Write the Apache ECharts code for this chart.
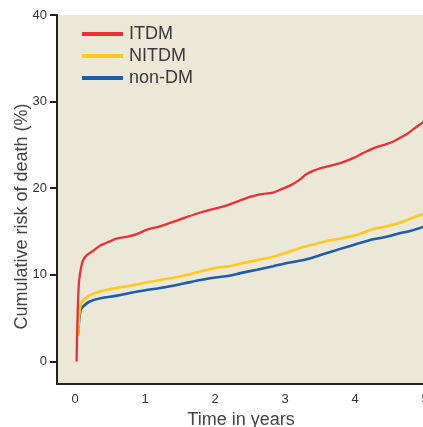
<!DOCTYPE html>
<html><head><meta charset="utf-8">
<script src="https://cdn.jsdelivr.net/npm/echarts@6/dist/echarts.min.js"></script>
<style>html,body{margin:0;padding:0;background:#fff}#c{width:423px;height:427px}</style>
</head><body><div id="c"></div>
<script>
const seriesNames = ['ITDM', 'NITDM', 'non-DM'];
const xTicks = [0, 1, 2, 3, 4, 5];
const yTicks = [0, 10, 20, 30, 40];
const itdm = [[0.02,0],[0.03,4],[0.05,8.7],[0.07,10.2],[0.1,11.4],[0.12,11.8],[0.17,12.3],[0.26,12.8],[0.36,13.4],[0.45,13.7],[0.6,14.2],[0.75,14.4],[0.88,14.7],[1.02,15.2],[1.21,15.6],[1.5,16.4],[1.79,17.2],[2.07,17.8],[2.2,18.1],[2.36,18.6],[2.5,19.0],[2.64,19.3],[2.83,19.5],[2.95,19.9],[3.07,20.3],[3.21,21.0],[3.3,21.6],[3.4,22.0],[3.5,22.3],[3.65,22.6],[3.79,22.9],[3.98,23.5],[4.1,24.0],[4.26,24.6],[4.45,25.1],[4.55,25.4],[4.64,25.8],[4.75,26.3],[4.83,26.8],[4.97,27.6],[5.0,27.8]];
const nitdm = [[0.04,3.0],[0.06,5.5],[0.08,6.6],[0.12,7.1],[0.2,7.6],[0.36,8.1],[0.6,8.5],[0.83,8.8],[1.07,9.2],[1.21,9.4],[1.55,9.9],[1.79,10.4],[2.0,10.8],[2.2,11.0],[2.36,11.3],[2.6,11.7],[2.83,12.1],[3.07,12.7],[3.25,13.2],[3.45,13.6],[3.6,13.9],[3.79,14.2],[4.02,14.6],[4.26,15.3],[4.4,15.5],[4.55,15.8],[4.7,16.2],[4.83,16.6],[5.0,17.1]];
const nondm = [[0.04,3.0],[0.06,5.0],[0.08,6.0],[0.12,6.4],[0.2,6.9],[0.36,7.3],[0.6,7.6],[0.83,8.0],[1.07,8.3],[1.3,8.6],[1.55,9.0],[1.79,9.4],[2.0,9.7],[2.2,9.9],[2.36,10.2],[2.6,10.6],[2.83,11.0],[3.05,11.4],[3.31,11.8],[3.55,12.4],[3.79,13.0],[4.0,13.5],[4.26,14.1],[4.45,14.4],[4.64,14.8],[4.8,15.1],[5.0,15.6]];
const colors = {ITDM:'#EE3036', NITDM:'#FFC81E', 'non-DM':'#1F5BAE'};

const chart = echarts.init(document.getElementById('c'), null, {renderer:'canvas'});
const tickFont = 'Arial';
const sans = 'Arial';
function mk(name, data, w){
  return {name, type:'line', data, showSymbol:false, symbol:'none', smooth:0.3,
    lineStyle:{color:colors[name], width:w}, itemStyle:{color:colors[name]}, animation:false};
}
chart.setOption({
  animation:false,
  grid:{left:57, top:15, right:-2, bottom:43, show:true, backgroundColor:'#EBE8D7', borderWidth:0,
    containLabel:false, outerBoundsMode:'none'},
  legend:{orient:'vertical', left:77, top:19, itemWidth:41, itemHeight:4, itemGap:2, icon:'rect',
    data:seriesNames,
    textStyle:{fontFamily:sans, fontSize:18, color:'#3a3a3a', lineHeight:20, padding:[0,0,0,1]}},
  xAxis:{type:'value', min:-0.26, max:5.0,
    axisLine:{show:true, onZero:false, lineStyle:{color:'#231F20', width:2}},
    axisTick:{show:false},
    splitLine:{show:false},
    axisLabel:{customValues:xTicks, fontFamily:tickFont, fontSize:13, color:'#333', margin:9, hideOverlap:false},
    name:'Time in years', nameLocation:'middle', nameGap:27, nameMoveOverlap:false,
    nameTextStyle:{fontFamily:sans, fontSize:18, color:'#444'}},
  yAxis:{type:'value', min:-2.6, max:40,
    axisLine:{show:true, onZero:false, lineStyle:{color:'#231F20', width:2}},
    axisTick:{show:true, customValues:yTicks, length:7, lineStyle:{color:'#231F20', width:2}},
    splitLine:{show:false},
    axisLabel:{customValues:yTicks, fontFamily:tickFont, fontSize:13, color:'#333', margin:10},
    name:'Cumulative risk of death (%)', nameLocation:'middle', nameRotate:90, nameGap:26, nameMoveOverlap:false,
    nameTextStyle:{fontFamily:sans, fontSize:18, color:'#444', padding:[0,34,0,0]}},
  series:[mk('non-DM', nondm, 2.6), mk('NITDM', nitdm, 2.6), mk('ITDM', itdm, 2.3)]
});
</script></body></html>
